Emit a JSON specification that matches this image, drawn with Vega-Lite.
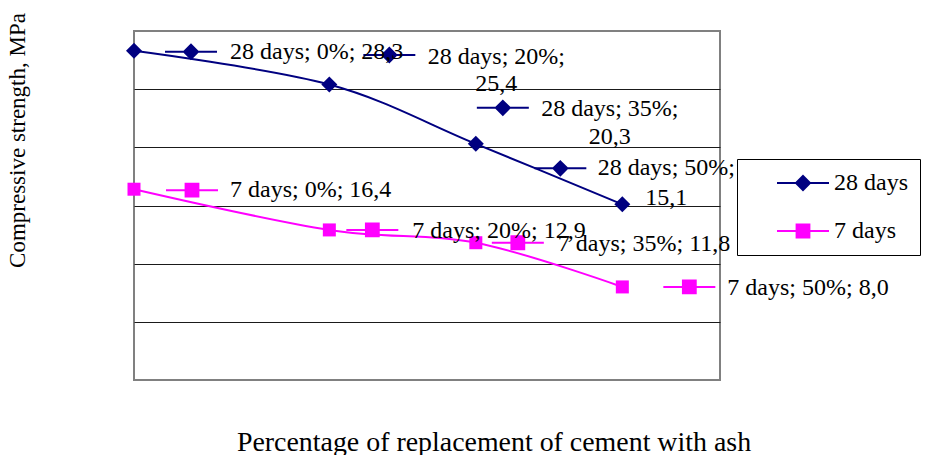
{
  "$schema": "https://vega.github.io/schema/vega-lite/v6.json",
  "width": 586,
  "height": 349,
  "autosize": {"type": "none"},
  "padding": {"left": 134, "top": 31, "right": 211, "bottom": 75},
  "background": "white",
  "config": {
    "view": {"stroke": "#808080", "strokeWidth": 2},
    "font": "Liberation Serif"
  },
  "data": {
    "values": [
      {"series": "28 days", "pct": 0, "value": 28.3, "label": "28 days; 0%; 28,3"},
      {"series": "28 days", "pct": 20, "value": 25.4, "label": "28 days; 20%;\n25,4"},
      {"series": "28 days", "pct": 35, "value": 20.3, "label": "28 days; 35%;\n20,3"},
      {"series": "28 days", "pct": 50, "value": 15.1, "label": "28 days; 50%;\n15,1"},
      {"series": "7 days", "pct": 0, "value": 16.4, "label": "7 days; 0%; 16,4"},
      {"series": "7 days", "pct": 20, "value": 12.9, "label": "7 days; 20%; 12,9"},
      {"series": "7 days", "pct": 35, "value": 11.8, "label": "7 days; 35%; 11,8"},
      {"series": "7 days", "pct": 50, "value": 8.0, "label": "7 days; 50%; 8,0"}
    ]
  },
  "encoding": {
    "x": {
      "field": "pct", "type": "quantitative",
      "scale": {"domain": [0, 60], "nice": false, "zero": false},
      "axis": {
        "title": "Percentage of replacement of cement with ash",
        "labels": false, "ticks": false, "domain": false, "grid": false,
        "titleFont": "Liberation Serif", "titleFontSize": 27.9, "titleFontWeight": "normal",
        "titleColor": "black", "titleX": 359.5, "titleY": 70,
        "titleBaseline": "alphabetic", "titleAlign": "center"
      }
    },
    "y": {
      "field": "value", "type": "quantitative",
      "scale": {"domain": [0, 30], "nice": false, "zero": true},
      "axis": {
        "title": "Compressive strength, MPa",
        "values": [5, 10, 15, 20, 25],
        "labels": false, "ticks": false, "domain": false, "grid": true,
        "gridColor": "#1a1a1a", "gridWidth": 1,
        "titleFont": "Liberation Serif", "titleFontSize": 23, "titleFontWeight": "normal",
        "titleColor": "black", "titleX": -117, "titleY": 109, "titleAngle": -90,
        "titleBaseline": "middle", "titleAlign": "center"
      }
    }
  },
  "layer": [
    {
      "transform": [{"filter": "datum.series === '28 days'"}],
      "mark": {"type": "line", "interpolate": "cardinal", "tension": 0, "strokeWidth": 2, "color": "#000080"}
    },
    {
      "transform": [{"filter": "datum.series === '7 days'"}],
      "mark": {"type": "line", "interpolate": "cardinal", "tension": 0, "strokeWidth": 2, "color": "#FF00FF"}
    },
    {
      "transform": [{"filter": "datum.series === '28 days'"}],
      "mark": {"type": "point", "filled": true, "shape": "diamond", "size": 256, "opacity": 1, "color": "#000080"}
    },
    {
      "transform": [{"filter": "datum.series === '7 days'"}],
      "mark": {"type": "point", "filled": true, "shape": "square", "size": 169, "opacity": 1, "color": "#FF00FF"}
    },
    {
      "layer": [
        {"transform": [{"filter": "datum.series === '28 days' && datum.pct === 0"}], "mark": {"type": "point", "filled": true, "size": 256, "strokeWidth": 2, "opacity": 1, "xOffset": 57, "yOffset": 1}},
        {"transform": [{"filter": "datum.series === '28 days' && datum.pct === 20"}], "mark": {"type": "point", "filled": true, "size": 256, "strokeWidth": 2, "opacity": 1, "xOffset": 60, "yOffset": -29.5}},
        {"transform": [{"filter": "datum.series === '28 days' && datum.pct === 35"}], "mark": {"type": "point", "filled": true, "size": 256, "strokeWidth": 2, "opacity": 1, "xOffset": 27, "yOffset": -36}},
        {"transform": [{"filter": "datum.series === '28 days' && datum.pct === 50"}], "mark": {"type": "point", "filled": true, "size": 256, "strokeWidth": 2, "opacity": 1, "xOffset": -62, "yOffset": -36}},
        {"transform": [{"filter": "datum.series === '7 days' && datum.pct === 0"}], "mark": {"type": "point", "filled": true, "size": 256, "strokeWidth": 2, "opacity": 1, "xOffset": 58, "yOffset": 1}},
        {"transform": [{"filter": "datum.series === '7 days' && datum.pct === 20"}], "mark": {"type": "point", "filled": true, "size": 256, "strokeWidth": 2, "opacity": 1, "xOffset": 43, "yOffset": 0}},
        {"transform": [{"filter": "datum.series === '7 days' && datum.pct === 35"}], "mark": {"type": "point", "filled": true, "size": 256, "strokeWidth": 2, "opacity": 1, "xOffset": 42, "yOffset": 0}},
        {"transform": [{"filter": "datum.series === '7 days' && datum.pct === 50"}], "mark": {"type": "point", "filled": true, "size": 256, "strokeWidth": 2, "opacity": 1, "xOffset": 67, "yOffset": 0}}
      ],
      "encoding": {
        "shape": {
          "field": "series", "type": "nominal",
          "scale": {"domain": ["28 days", "7 days"], "range": ["M-3.25,0L3.25,0M0,-0.875L0.875,0L0,0.875L-0.875,0Z", "M-3.25,0L3.25,0M-0.8,-0.8L0.8,-0.8L0.8,0.8L-0.8,0.8Z"]},
          "legend": {"orient": "none", "legendX": 603, "legendY": 128, "title": null, "padding": 12, "fillColor": "white", "strokeColor": "black", "symbolSize": 256, "symbolStrokeWidth": 2, "symbolOffset": 42, "labelOffset": 19, "labelFont": "Liberation Serif", "labelFontSize": 24, "labelColor": "black", "rowPadding": 24}
        },
        "fill": {
          "field": "series", "type": "nominal",
          "scale": {"domain": ["28 days", "7 days"], "range": ["#000080", "#FF00FF"]},
          "legend": {"orient": "none", "legendX": 603, "legendY": 128, "title": null, "padding": 12, "fillColor": "white", "strokeColor": "black", "symbolSize": 256, "symbolStrokeWidth": 2, "symbolOffset": 42, "labelOffset": 19, "labelFont": "Liberation Serif", "labelFontSize": 24, "labelColor": "black", "rowPadding": 24}
        },
        "stroke": {
          "field": "series", "type": "nominal",
          "scale": {"domain": ["28 days", "7 days"], "range": ["#000080", "#FF00FF"]},
          "legend": {"orient": "none", "legendX": 603, "legendY": 128, "title": null, "padding": 12, "fillColor": "white", "strokeColor": "black", "symbolSize": 256, "symbolStrokeWidth": 2, "symbolOffset": 42, "labelOffset": 19, "labelFont": "Liberation Serif", "labelFontSize": 24, "labelColor": "black", "rowPadding": 24}
        }
      }
    },
    {
      "layer": [
        {"transform": [{"filter": "datum.series === '28 days' && datum.pct === 0"}], "mark": {"type": "text", "align": "left", "baseline": "middle", "dx": 96, "dy": 1, "font": "Liberation Serif", "fontSize": 24, "lineBreak": "\n", "lineHeight": 28}},
        {"transform": [{"filter": "datum.series === '28 days' && datum.pct === 20"}], "mark": {"type": "text", "align": "center", "baseline": "middle", "dx": 167, "dy": -27.5, "font": "Liberation Serif", "fontSize": 24, "lineBreak": "\n", "lineHeight": 27}},
        {"transform": [{"filter": "datum.series === '28 days' && datum.pct === 35"}], "mark": {"type": "text", "align": "center", "baseline": "middle", "dx": 134, "dy": -34.5, "font": "Liberation Serif", "fontSize": 24, "lineBreak": "\n", "lineHeight": 28}},
        {"transform": [{"filter": "datum.series === '28 days' && datum.pct === 50"}], "mark": {"type": "text", "align": "center", "baseline": "middle", "dx": 44, "dy": -36.3, "font": "Liberation Serif", "fontSize": 24, "lineBreak": "\n", "lineHeight": 30}},
        {"transform": [{"filter": "datum.series === '7 days' && datum.pct === 0"}], "mark": {"type": "text", "align": "left", "baseline": "middle", "dx": 96, "dy": 1, "font": "Liberation Serif", "fontSize": 24}},
        {"transform": [{"filter": "datum.series === '7 days' && datum.pct === 20"}], "mark": {"type": "text", "align": "left", "baseline": "middle", "dx": 83, "dy": 1, "font": "Liberation Serif", "fontSize": 24}},
        {"transform": [{"filter": "datum.series === '7 days' && datum.pct === 35"}], "mark": {"type": "text", "align": "left", "baseline": "middle", "dx": 82, "dy": 1, "font": "Liberation Serif", "fontSize": 24}},
        {"transform": [{"filter": "datum.series === '7 days' && datum.pct === 50"}], "mark": {"type": "text", "align": "left", "baseline": "middle", "dx": 105, "dy": 1, "font": "Liberation Serif", "fontSize": 24}}
      ],
      "encoding": {
        "text": {"field": "label", "type": "nominal"},
        "color": {"value": "black"}
      }
    }
  ]
}
